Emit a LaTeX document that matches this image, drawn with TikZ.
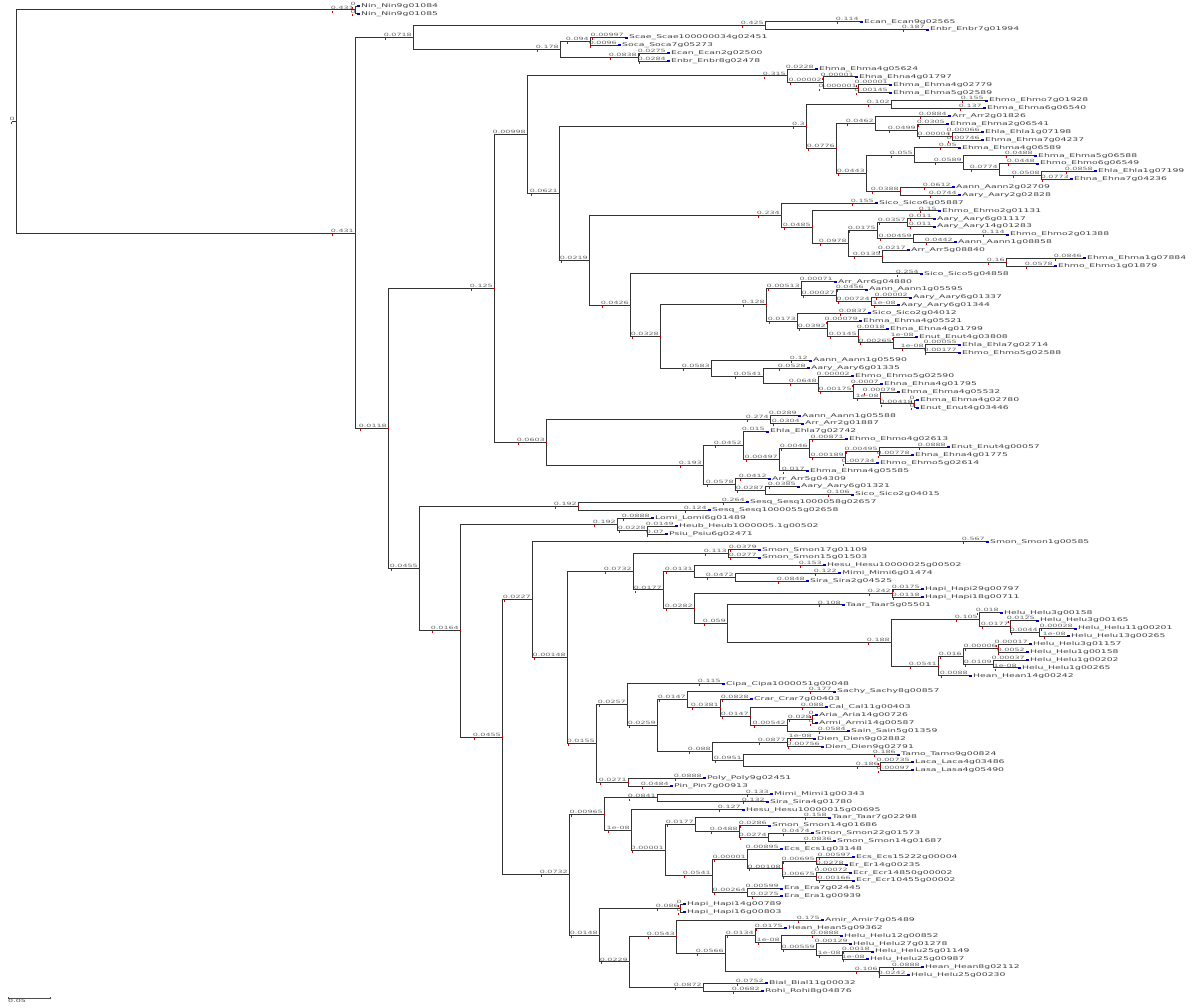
\documentclass[tikz,border=0pt]{standalone}
\usepackage{graphicx}
\usepackage{fontspec}
\usepackage{tikz}
\usetikzlibrary{calc}
\newfontfamily\treefont{DejaVu Sans}

\newcommand{\sqz}[1]{\scalebox{1}[0.55]{#1}}
\tikzset{
  branch/.style={draw=black!80, line width=0.9pt},
  brlab/.style={anchor=south east, inner sep=0pt, xshift=-1pt, yshift=0.6pt,
    font=\treefont\fontsize{8}{9}\selectfont, text=black!60},
  leafname/.style={anchor=west, inner sep=0pt, xshift=4pt,
    font=\treefont\fontsize{9.3}{10}\selectfont, text=black!75},
  leafmark/.style={fill=blue!75!black},
  redtick/.style={fill=red!85!black}
}
% branch length above a branch, red tick at its start
\newcommand{\blab}[2]{%
  \node[brlab] (bl) at (#1) {\sqz{#2}};
  \fill[redtick] ([xshift=1pt,yshift=-3.2pt]bl.south west) rectangle ++(0.8pt,2pt);
}
% leaf: index, x, branch length, taxon, gene
\newcommand{\leaf}[5]{%
  \coordinate (l#1) at (#2,{6+(#1-1)*7.88});
  \fill[leafmark] ([yshift=-1pt]l#1) rectangle ++(3pt,2pt);
  \node[leafname] (t#1) at (l#1) {\sqz{#4\_#5}};
  \blab{l#1}{#3}
}
% inner node: name, x, first child, last child, branch length
\newcommand{\inode}[5]{%
  \path let \p1=($(#3)!.5!(#4)$) in (#2pt,\y1) coordinate (#1);
  \draw[branch] (#1) |- (#3);
  \draw[branch] (#1) |- (#4);
  \fill[redtick] ([xshift=-0.5pt,yshift=-0.7pt]#1) rectangle ++(1pt,1.4pt);
  \blab{#1}{#5}
}

\begin{document}
\begin{tikzpicture}[x=1pt,y=-1pt]
\useasboundingbox (0,0) rectangle (1200,1008);

% leaves, top to bottom
\leaf{1}{357}{0}{Nin}{Nin9g01084}
\leaf{2}{357}{0}{Nin}{Nin9g01085}
\leaf{3}{860}{0.114}{Ecan}{Ecan9g02565}
\leaf{4}{926}{0.187}{Enbr}{Enbr7g01994}
\leaf{5}{625}{0.00997}{Scae}{Scae100000034g02451}
\leaf{6}{618}{0.0096}{Soca}{Soca7g05273}
\leaf{7}{667}{0.0275}{Ecan}{Ecan2g02500}
\leaf{8}{667}{0.0284}{Enbr}{Enbr8g02478}
\leaf{9}{815}{0.0228}{Ehma}{Ehma4g05624}
\leaf{10}{855}{0.00001}{Ehna}{Ehna4g01797}
\leaf{11}{889}{0.00001}{Ehma}{Ehma4g02779}
\leaf{12}{889}{0.00145}{Ehma}{Ehma5g02589}
\leaf{13}{985}{0.155}{Ehmo}{Ehmo7g01928}
\leaf{14}{983}{0.137}{Ehma}{Ehma6g06540}
\leaf{15}{948}{0.0884}{Arr}{Arr2g01826}
\leaf{16}{946}{0.0305}{Ehma}{Ehma2g06541}
\leaf{17}{981}{0.00066}{Ehla}{Ehla1g07198}
\leaf{18}{981}{0.00746}{Ehma}{Ehma7g04237}
\leaf{19}{958}{0.05}{Ehma}{Ehma4g06589}
\leaf{20}{1034}{0.0488}{Ehma}{Ehma5g06588}
\leaf{21}{1036}{0.0448}{Ehmo}{Ehmo6g06549}
\leaf{22}{1094}{0.0858}{Ehla}{Ehla1g07199}
\leaf{23}{1070}{0.0773}{Ehna}{Ehna7g04236}
\leaf{24}{952}{0.0612}{Aann}{Aann2g02709}
\leaf{25}{958}{0.0744}{Aary}{Aary2g02828}
\leaf{26}{875}{0.155}{Sico}{Sico6g05887}
\leaf{27}{938}{0.15}{Ehmo}{Ehmo2g01131}
\leaf{28}{933}{0.011}{Aary}{Aary6g01117}
\leaf{29}{933}{0.011}{Aary}{Aary14g01283}
\leaf{30}{1006}{0.114}{Ehmo}{Ehmo2g01388}
\leaf{31}{954}{0.0442}{Aann}{Aann1g08858}
\leaf{32}{907}{0.0217}{Arr}{Arr5g08840}
\leaf{33}{1083}{0.0846}{Ehma}{Ehma1g07884}
\leaf{34}{1054}{0.0578}{Ehmo}{Ehmo1g01879}
\leaf{35}{920}{0.254}{Sico}{Sico5g04858}
\leaf{36}{834}{0.00071}{Arr}{Arr6g04880}
\leaf{37}{865}{0.0456}{Aann}{Aann1g05595}
\leaf{38}{909}{0.00002}{Aary}{Aary6g01337}
\leaf{39}{897}{1e-08}{Aary}{Aary6g01344}
\leaf{40}{868}{0.0837}{Sico}{Sico2g04012}
\leaf{41}{859}{0.00079}{Ehma}{Ehma4g05521}
\leaf{42}{886}{0.0018}{Ehna}{Ehna4g01799}
\leaf{43}{915}{1e-08}{Enut}{Enut4g03808}
\leaf{44}{958}{0.00055}{Ehla}{Ehla7g02714}
\leaf{45}{958}{0.00177}{Ehmo}{Ehmo5g02588}
\leaf{46}{809}{0.12}{Aann}{Aann1g05590}
\leaf{47}{807}{0.0528}{Aary}{Aary6g01335}
\leaf{48}{851}{0.00002}{Ehmo}{Ehmo5g02590}
\leaf{49}{880}{0.0007}{Ehna}{Ehna4g01795}
\leaf{50}{897}{0.00079}{Ehma}{Ehma4g05532}
\leaf{51}{916}{0}{Ehma}{Ehma4g02780}
\leaf{52}{916}{0}{Enut}{Enut4g03446}
\leaf{53}{798}{0.0289}{Aann}{Aann1g05588}
\leaf{54}{801}{0.0304}{Arr}{Arr2g01887}
\leaf{55}{766}{0.015}{Ehla}{Ehla7g02742}
\leaf{56}{845}{0.00871}{Ehmo}{Ehmo4g02613}
\leaf{57}{947}{0.0888}{Enut}{Enut4g00057}
\leaf{58}{911}{0.00778}{Ehna}{Ehna4g01775}
\leaf{59}{876}{0.00734}{Ehmo}{Ehmo5g02614}
\leaf{60}{806}{0.017}{Ehma}{Ehma4g05585}
\leaf{61}{768}{0.0412}{Arr}{Arr5g04309}
\leaf{62}{797}{0.0385}{Aary}{Aary6g01321}
\leaf{63}{851}{0.106}{Sico}{Sico2g04015}
\leaf{64}{746}{0.264}{Sesq}{Sesq1000058g02657}
\leaf{65}{708}{0.124}{Sesq}{Sesq1000055g02658}
\leaf{66}{651}{0.0888}{Lomi}{Lomi6g01489}
\leaf{67}{675}{0.0149}{Heub}{Heub1000005.1g00502}
\leaf{68}{665}{0.07}{Psiu}{Psiu6g02471}
\leaf{69}{986}{0.567}{Smon}{Smon1g00585}
\leaf{70}{758}{0.0379}{Smon}{Smon17g01109}
\leaf{71}{758}{0.0277}{Smon}{Smon15g01503}
\leaf{72}{823}{0.153}{Hesu}{Hesu10000025g00502}
\leaf{73}{838}{0.122}{Mimi}{Mimi6g01474}
\leaf{74}{806}{0.0848}{Sira}{Sira2g04525}
\leaf{75}{921}{0.0175}{Hapi}{Hapi29g00797}
\leaf{76}{921}{0.0118}{Hapi}{Hapi18g00711}
\leaf{77}{842}{0.108}{Taar}{Taar5g05501}
\leaf{78}{1000}{0.018}{Helu}{Helu3g00158}
\leaf{79}{1036}{0.0125}{Helu}{Helu3g00165}
\leaf{80}{1074}{0.00028}{Helu}{Helu11g00201}
\leaf{81}{1067}{1e-08}{Helu}{Helu13g00265}
\leaf{82}{1029}{0.00017}{Helu}{Helu3g01157}
\leaf{83}{1026}{0.0052}{Helu}{Helu1g00158}
\leaf{84}{1026}{0.00037}{Helu}{Helu1g00202}
\leaf{85}{1018}{1e-08}{Helu}{Helu1g00265}
\leaf{86}{969}{0.0088}{Hean}{Hean14g00242}
\leaf{87}{722}{0.115}{Cipa}{Cipa1000051g00048}
\leaf{88}{833}{0.177}{Sachy}{Sachy8g00857}
\leaf{89}{750}{0.0828}{Crar}{Crar7g00403}
\leaf{90}{825}{0.088}{Cal}{Cal11g00403}
\leaf{91}{815}{0}{Aria}{Aria14g00726}
\leaf{92}{815}{0}{Armi}{Armi14g00587}
\leaf{93}{847}{0.0584}{Sain}{Sain5g01359}
\leaf{94}{813}{1e-08}{Dien}{Dien9g02882}
\leaf{95}{821}{0.00756}{Dien}{Dien9g02791}
\leaf{96}{897}{0.186}{Tamo}{Tamo9g00824}
\leaf{97}{911}{0.00735}{Laca}{Laca4g03486}
\leaf{98}{911}{0.00097}{Lasa}{Lasa4g05490}
\leaf{99}{703}{0.0888}{Poly}{Poly9g02451}
\leaf{100}{670}{0.0484}{Pin}{Pin7g00913}
\leaf{101}{770}{0.133}{Mimi}{Mimi1g00343}
\leaf{102}{766}{0.132}{Sira}{Sira4g01780}
\leaf{103}{742}{0.127}{Hesu}{Hesu10000015g00695}
\leaf{104}{828}{0.158}{Taar}{Taar7g02298}
\leaf{105}{768}{0.0286}{Smon}{Smon14g01686}
\leaf{106}{811}{0.0474}{Smon}{Smon22g01573}
\leaf{107}{833}{0.0836}{Smon}{Smon14g01687}
\leaf{108}{780}{0.00895}{Ecs}{Ecs1g03148}
\leaf{109}{852}{0.00597}{Ecs}{Ecs15222g00004}
\leaf{110}{845}{0.0278}{Er}{Er14g00235}
\leaf{111}{849}{0.00072}{Ecr}{Ecr14850g00002}
\leaf{112}{852}{0.00166}{Ecr}{Ecr10455g00002}
\leaf{113}{780}{0.00599}{Era}{Era7g02445}
\leaf{114}{780}{0.0275}{Era}{Era1g00939}
\leaf{115}{683}{0}{Hapi}{Hapi14g00789}
\leaf{116}{683}{0}{Hapi}{Hapi16g00803}
\leaf{117}{821}{0.175}{Amir}{Amir7g05489}
\leaf{118}{784}{0.0175}{Hean}{Hean5g09362}
\leaf{119}{840}{0.0888}{Helu}{Helu12g00852}
\leaf{120}{849}{0.00129}{Helu}{Helu27g01278}
\leaf{121}{871}{0.0018}{Helu}{Helu25g01149}
\leaf{122}{866}{1e-08}{Helu}{Helu25g00987}
\leaf{123}{921}{0.0888}{Hean}{Hean8g02112}
\leaf{124}{907}{0.0242}{Helu}{Helu25g00230}
\leaf{125}{765}{0.0752}{Bial}{Bial11g00032}
\leaf{126}{761}{0.0682}{Rohi}{Rohi8g04876}

% inner nodes, children first
\inode{nNin}{355}{l1}{l2}{0.431}
\inode{nC1}{765}{l3}{l4}{0.425}
\inode{nC21}{590}{l5}{l6}{0.094}
\inode{nC22}{638}{l7}{l8}{0.0838}
\inode{nC2}{560}{nC21}{nC22}{0.178}
\inode{nC}{413}{nC1}{nC2}{0.0718}
\inode{a1}{858}{l11}{l12}{0.000001}
\inode{a2}{823}{l10}{a1}{0.00002}
\inode{a3}{787}{l9}{a2}{0.315}
\inode{b1}{891}{l13}{l14}{0.102}
\inode{b2}{952}{l17}{l18}{0.00004}
\inode{b3}{917}{l16}{b2}{0.0499}
\inode{b4}{875}{l15}{b3}{0.0462}
\inode{b5}{1041}{l22}{l23}{0.0508}
\inode{b6}{999}{l21}{b5}{0.0774}
\inode{b7}{963}{l20}{b6}{0.0589}
\inode{b8}{914}{l19}{b7}{0.055}
\inode{b9}{900}{l24}{l25}{0.0388}
\inode{b10}{866}{b8}{b9}{0.0443}
\inode{b11}{836}{b4}{b10}{0.0776}
\inode{b12}{806}{b1}{b11}{0.3}
\inode{c1}{907}{l28}{l29}{0.0357}
\inode{c2}{913}{l30}{l31}{0.00459}
\inode{c3}{877}{c1}{c2}{0.0175}
\inode{c4}{1006}{l33}{l34}{0.16}
\inode{c5}{882}{l32}{c4}{0.0135}
\inode{c6}{848}{c3}{c5}{0.0978}
\inode{c7}{812}{l27}{c6}{0.0485}
\inode{c8}{781}{l26}{c7}{0.234}
\inode{d1}{871}{l38}{l39}{0.00724}
\inode{d2}{836}{l37}{d1}{0.00027}
\inode{d3}{801}{l36}{d2}{0.00513}
\inode{d4}{925}{l44}{l45}{1e-08}
\inode{d5}{893}{l43}{d4}{0.00265}
\inode{d6}{858}{l42}{d5}{0.0145}
\inode{d7}{827}{l41}{d6}{0.0392}
\inode{d8}{797}{l40}{d7}{0.0173}
\inode{d9}{766}{d3}{d8}{0.128}
\inode{d10}{914}{l51}{l52}{0.00418}
\inode{d11}{880}{l50}{d10}{1e-08}
\inode{d12}{853}{l49}{d11}{0.00175}
\inode{d13}{818}{l48}{d12}{0.0648}
\inode{d14}{763}{l47}{d13}{0.0541}
\inode{d15}{711}{l46}{d14}{0.0583}
\inode{d16}{660}{d9}{d15}{0.0328}
\inode{d17}{630}{l35}{d16}{0.0426}
\inode{e1}{589}{c8}{d17}{0.0219}
\inode{e2}{559}{b12}{e1}{0.0621}
\inode{e3}{527}{a3}{e2}{0.00998}
\inode{f1}{770}{l53}{l54}{0.274}
\inode{f2}{879}{l57}{l58}{0.00495}
\inode{f3}{845}{f2}{l59}{0.00189}
\inode{f4}{809}{l56}{f3}{0.0046}
\inode{f5}{779}{f4}{l60}{0.00497}
\inode{f6}{743}{l55}{f5}{0.0452}
\inode{f7}{765}{l62}{l63}{0.0287}
\inode{f8}{735}{l61}{f7}{0.0578}
\inode{f9}{703}{f6}{f8}{0.193}
\inode{f10}{546}{f1}{f9}{0.0603}
\inode{nE}{494}{e3}{f10}{0.125}
\inode{g1}{578}{l64}{l65}{0.192}
\inode{g2}{647}{l67}{l68}{0.0228}
\inode{g3}{617}{l66}{g2}{0.192}
\inode{h1}{728}{l70}{l71}{0.113}
\inode{h2}{735}{l73}{l74}{0.0472}
\inode{h3}{694}{l72}{h2}{0.0131}
\inode{h4}{892}{l75}{l76}{0.242}
\inode{h5}{1039}{l80}{l81}{0.0044}
\inode{h6}{1010}{l79}{h5}{0.0177}
\inode{h7}{979}{l78}{h6}{0.105}
\inode{h8}{998}{l82}{l83}{0.00006}
\inode{h9}{993}{l84}{l85}{0.0109}
\inode{h10}{963}{h8}{h9}{0.016}
\inode{h11}{938}{h10}{l86}{0.0541}
\inode{h12}{891}{h7}{h11}{0.188}
\inode{h13}{727}{l77}{h12}{0.059}
\inode{h14}{694}{h4}{h13}{0.0282}
\inode{h15}{663}{h3}{h14}{0.0177}
\inode{h16}{633}{h1}{h15}{0.0732}
\inode{i1}{812}{l91}{l92}{0.028}
\inode{i2}{787}{i1}{l93}{0.00542}
\inode{i3}{750}{l90}{i2}{0.0147}
\inode{i4}{720}{l89}{i3}{0.0381}
\inode{i5}{687}{l88}{i4}{0.0147}
\inode{i6}{787}{l94}{l95}{0.0877}
\inode{i7}{880}{l97}{l98}{0.186}
\inode{i8}{743}{l96}{i7}{0.0951}
\inode{i9}{712}{i6}{i8}{0.088}
\inode{i10}{657}{i5}{i9}{0.0259}
\inode{i11}{627}{l87}{i10}{0.0257}
\inode{i12}{628}{l99}{l100}{0.0271}
\inode{i13}{596}{i11}{i12}{0.0155}
\inode{i14}{567}{h16}{i13}{0.00148}
\inode{i15}{532}{l69}{i14}{0.0227}
\inode{j1}{657}{l101}{l102}{0.0841}
\inode{j2}{768}{l106}{l107}{0.0274}
\inode{j3}{739}{l105}{j2}{0.0488}
\inode{j4}{695}{l104}{j3}{0.0177}
\inode{j5}{816}{l109}{l110}{0.00695}
\inode{j6}{816}{l111}{l112}{0.00675}
\inode{j7}{782}{j5}{j6}{0.00108}
\inode{j8}{747}{l108}{j7}{0.00001}
\inode{j9}{747}{l113}{l114}{0.00264}
\inode{j10}{712}{j8}{j9}{0.0541}
\inode{j11}{665}{j4}{j10}{0.00001}
\inode{j12}{631}{l103}{j11}{1e-08}
\inode{j13}{604}{j1}{j12}{0.00965}
\inode{k1}{680}{l115}{l116}{0.086}
\inode{k2}{842}{l121}{l122}{1e-08}
\inode{k3}{816}{l120}{k2}{0.00559}
\inode{k4}{781}{l119}{k3}{1e-08}
\inode{k5}{755}{l118}{k4}{0.0134}
\inode{k6}{879}{l123}{l124}{0.106}
\inode{k7}{725}{k5}{k6}{0.0566}
\inode{k8}{676}{l117}{k7}{0.0543}
\inode{k9}{703}{l125}{l126}{0.0872}
\inode{k10}{629}{k8}{k9}{0.0229}
\inode{k11}{599}{k1}{k10}{0.0148}
\inode{k12}{569}{j13}{k11}{0.0732}
\inode{m1}{502}{i15}{k12}{0.0455}
\inode{m2}{460}{g3}{m1}{0.0164}
\inode{m3}{419}{g1}{m2}{0.0455}
\inode{nD}{388}{nE}{m3}{0.0118}
\inode{nB}{355}{nC}{nD}{0.431}
\inode{root}{16}{nNin}{nB}{0}
\path let \p1=(root) in (12pt,\y1) coordinate (rootstub);
\draw[branch] (rootstub) -- (root);

% scale bar
\coordinate (sb0) at (8,998);
\coordinate (sb1) at (50,998);
\draw[black!70, line width=0.6pt] (sb0) -- (sb1);
\draw[black!70, line width=0.6pt] ([yshift=-1pt]sb0) -- ([yshift=1pt]sb0);
\draw[black!70, line width=0.6pt] ([yshift=-1pt]sb1) -- ([yshift=1pt]sb1);
\node[anchor=north west, inner sep=0pt, font=\treefont\fontsize{8}{9}\selectfont, text=black!70] (sbl) at ([yshift=-1.5pt]sb0) {\sqz{0.05}};
\end{tikzpicture}
\end{document}
